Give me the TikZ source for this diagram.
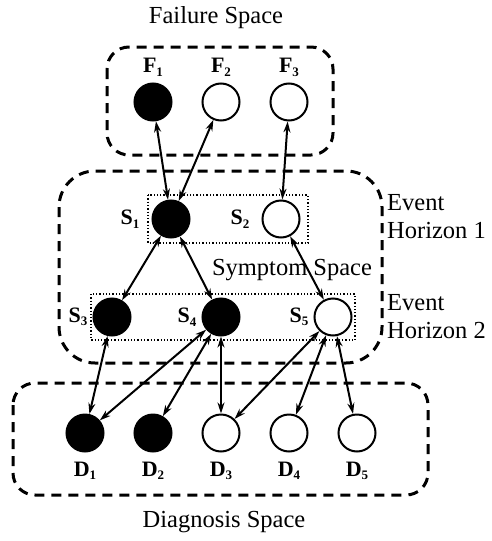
\documentclass[tikz,border=0pt]{standalone}
\usepackage{fontspec}
\setmainfont{Liberation Serif}
\usetikzlibrary{positioning,arrows.meta}
\tikzstyle{diagram} = [x = 1pt, y = -1pt]
\tikzstyle{nodeStyle} = [circle, draw=black, line width=2pt, minimum size=37pt, inner sep=0pt]
\tikzstyle{activeNode} = [nodeStyle, fill=black]
\tikzstyle{idleNode} = [nodeStyle, fill=white]
\tikzstyle{spaceStyle} = [line width=3pt, dash pattern=on 10pt off 7pt]
\tikzstyle{horizonStyle} = [line width=1.3pt, dotted]
\tikzstyle{linkStyle} = [{Stealth[length=11pt,width=7pt]}-{Stealth[length=11pt,width=7pt]}, line width=2pt]
\tikzstyle{titleText} = [font=\fontsize{24.5}{28}\selectfont, inner sep=0pt]
\tikzstyle{labelText} = [font=\fontsize{22}{24}\selectfont\bfseries, inner sep=0pt]
\newcommand{\lbl}[2]{#1\raisebox{-.35ex}{\fontsize{13}{13}\selectfont #2}}

\begin{document}
\begin{tikzpicture}[diagram]
  \useasboundingbox (0,0) rectangle (491,541);
  % spaces
  \draw [spaceStyle, rounded corners=22pt] (107,47) rectangle (333,155);
  \draw [spaceStyle, rounded corners=36pt] (59,171) rectangle (382,363);
  \draw [spaceStyle, rounded corners=22pt] (13,383) rectangle (428,495);
  % event horizons
  \draw [horizonStyle] (148,195) rectangle (308,243);
  \draw [horizonStyle] (91,294) rectangle (355,340);
  % failures
  \foreach \idx/\x/\style in {1/153/activeNode, 2/221/idleNode, 3/289/idleNode} {
    \node [\style] (F\idx) at (\x,102) {};
    \node [labelText, above=6pt of F\idx] {\lbl{F}{\idx}};
  }
  % symptoms
  \foreach \idx/\x/\style in {1/171/activeNode, 2/281/idleNode} {
    \node [\style] (S\idx) at (\x,219) {};
    \node [labelText, left=12pt of S\idx] {\lbl{S}{\idx}};
  }
  \foreach \idx/\x/\style in {3/112/activeNode, 4/221/activeNode, 5/333/idleNode} {
    \node [\style] (S\idx) at (\x,317) {};
    \node [labelText, left=5pt of S\idx] {\lbl{S}{\idx}};
  }
  % diagnoses
  \foreach \idx/\x/\style in {1/85/activeNode, 2/153/activeNode, 3/221/idleNode, 4/289/idleNode, 5/357/idleNode} {
    \node [\style] (D\idx) at (\x,433) {};
    \node [labelText, below=9pt of D\idx] {\lbl{D}{\idx}};
  }
  % links
  \foreach \from/\to in {F1/S1, F2/S1, F3/S2, S1/S3, S1/S4, S2/S5, S3/D1, S4/D1, S4/D2, S4/D3, S5/D3, S5/D4, S5/D5}
    \draw [linkStyle] (\from) -- (\to);
  % texts
  \node [titleText] (failureText) at (216,18) {Failure Space};
  \node [titleText] (symptomText) at (292,270) {Symptom Space};
  \node [titleText] (diagnosisText) at (224,522) {Diagnosis Space};
  \node [titleText, anchor=west, align=left] (horizonOne) at (387,217) {Event\\Horizon 1};
  \node [titleText, anchor=west, align=left] (horizonTwo) at (387,317) {Event\\Horizon 2};
\end{tikzpicture}
\end{document}
